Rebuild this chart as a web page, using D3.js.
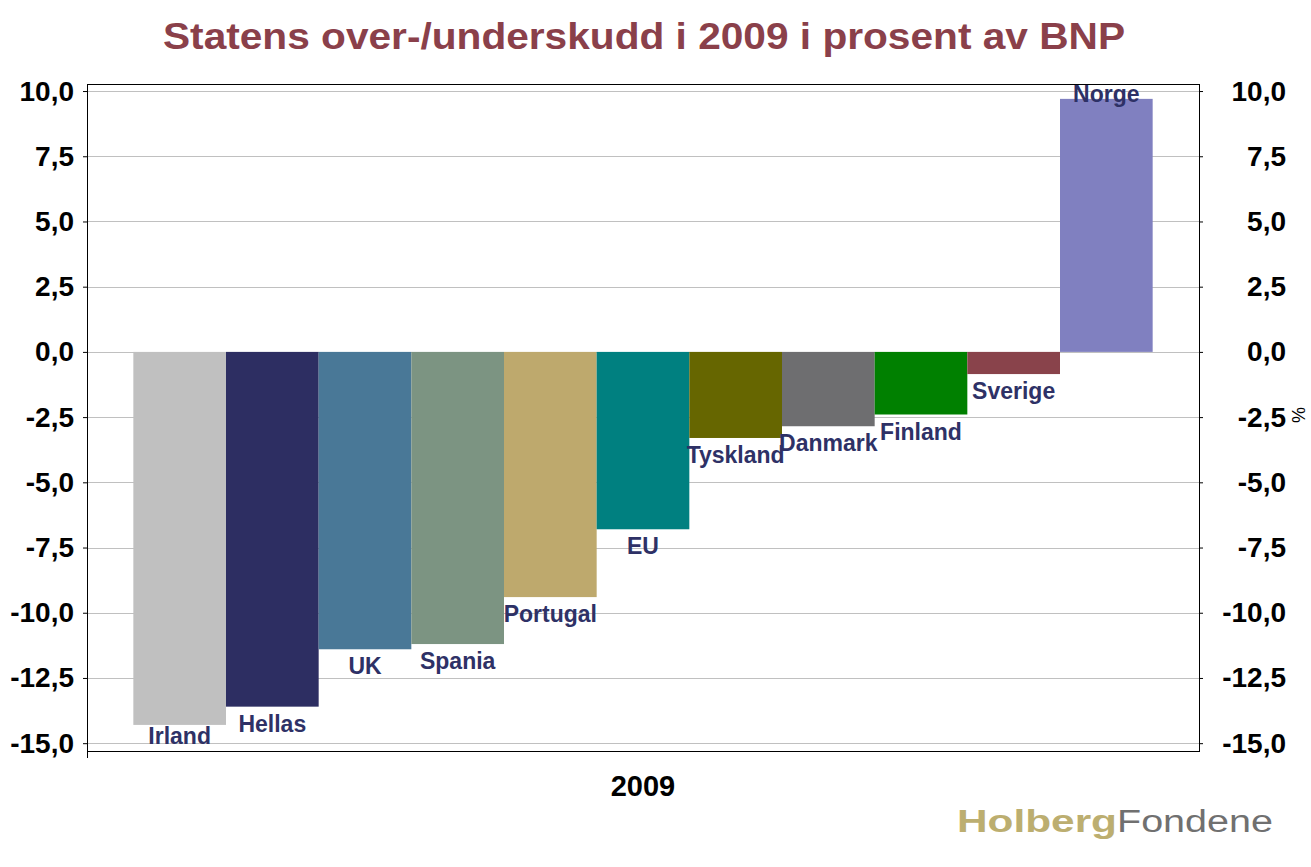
<!DOCTYPE html>
<html>
<head>
<meta charset="utf-8">
<script src="https://cdn.jsdelivr.net/npm/d3@7"></script>
<style>
  body { margin: 0; background: #fff; }
  text { font-family: "Liberation Sans", Arial, sans-serif; }
</style>
</head>
<body>
<script>
// frame dimensions
const FRAME_WIDTH = 1311;
const FRAME_HEIGHT = 867;
const MARGINS = {left: 87, right: 112, top: 84, bottom: 116};

const VIS_WIDTH = FRAME_WIDTH - MARGINS.left - MARGINS.right;
const VIS_HEIGHT = FRAME_HEIGHT - MARGINS.top - MARGINS.bottom;

// data
const countries = ['Irland', 'Hellas', 'UK', 'Spania', 'Portugal', 'EU', 'Tyskland', 'Danmark', 'Finland', 'Sverige', 'Norge'];
const balance = [-14.3, -13.6, -11.4, -11.2, -9.4, -6.8, -3.3, -2.85, -2.4, -0.85, 9.7];
const barColors = ['#c0c0c0', '#2d2e62', '#497897', '#7c9482', '#bea96d', '#008080', '#666600', '#6e6e70', '#008000', '#89434b', '#8080c0'];
const yTicks = [10, 7.5, 5, 2.5, 0, -2.5, -5, -7.5, -10, -12.5, -15];

const title = 'Statens over-/underskudd i 2009 i prosent av BNP';
const xTitle = '2009';

const data = countries.map((c, i) => ({name: c, value: balance[i], color: barColors[i]}));

const svg = d3.select('body')
  .append('svg')
    .attr('width', FRAME_WIDTH)
    .attr('height', FRAME_HEIGHT);

// scales
const xscale = d3.scaleBand()
  .domain(countries)
  .range([0, VIS_WIDTH])
  .paddingInner(0)
  .paddingOuter(0.5);

const yscale = d3.scaleLinear()
  .domain([-15.3, 10.27])
  .range([VIS_HEIGHT, 0]);

const fmt = (d) => d3.format('.1f')(d).replace('.', ',').replace('−', '-');

const FRAME = svg.append('g')
  .attr('transform', 'translate(' + MARGINS.left + ',' + MARGINS.top + ')');

// gridlines
FRAME.append('g')
  .selectAll('line')
  .data(yTicks)
  .enter().append('line')
    .attr('x1', 0)
    .attr('x2', VIS_WIDTH)
    .attr('y1', (d) => Math.round(yscale(d)) + 0.5)
    .attr('y2', (d) => Math.round(yscale(d)) + 0.5)
    .attr('stroke', '#c0c0c0')
    .attr('stroke-width', 1);

// bars
FRAME.selectAll('.bar')
  .data(data)
  .enter().append('rect')
    .attr('class', 'bar')
    .attr('x', (d) => xscale(d.name))
    .attr('y', (d) => yscale(Math.max(0, d.value)))
    .attr('width', xscale.bandwidth())
    .attr('height', (d) => Math.abs(yscale(d.value) - yscale(0)))
    .attr('fill', (d) => d.color);

// frame lines
FRAME.append('rect')
  .attr('x', 0.5)
  .attr('y', 0.5)
  .attr('width', VIS_WIDTH)
  .attr('height', VIS_HEIGHT)
  .attr('fill', 'none')
  .attr('stroke', '#000')
  .attr('stroke-width', 1);

// left axis
const leftAxis = FRAME.append('g')
  .call(d3.axisLeft(yscale).tickValues(yTicks).tickSize(4).tickFormat(fmt));
leftAxis.select('.domain').remove();
leftAxis.selectAll('text')
  .attr('x', -13)
  .attr('font-size', '28px')
  .attr('font-weight', 'bold')
  .attr('fill', '#000')
  .attr('font-family', '"Liberation Sans", Arial, sans-serif');

// right axis (labels right aligned like the original)
const rightAxis = FRAME.append('g')
  .attr('transform', 'translate(' + VIS_WIDTH + ',0)')
  .call(d3.axisRight(yscale).tickValues(yTicks).tickSize(4).tickFormat(fmt));
rightAxis.select('.domain').remove();
rightAxis.selectAll('text')
  .attr('x', 87)
  .attr('text-anchor', 'end')
  .attr('font-size', '28px')
  .attr('font-weight', 'bold')
  .attr('fill', '#000')
  .attr('font-family', '"Liberation Sans", Arial, sans-serif');

// small tick below the frame at the left edge
FRAME.append('line')
  .attr('x1', 0.5).attr('x2', 0.5)
  .attr('y1', VIS_HEIGHT).attr('y2', VIS_HEIGHT + 7)
  .attr('stroke', '#000');

// bar labels
FRAME.selectAll('.lbl')
  .data(data)
  .enter().append('text')
    .attr('class', 'lbl')
    .attr('x', (d) => xscale(d.name) + xscale.bandwidth() / 2)
    .attr('y', (d) => d.value < 0
      ? Math.min(yscale(d.value) + 25, VIS_HEIGHT - 7)
      : Math.max(yscale(d.value) - 8, 18))
    .attr('text-anchor', 'middle')
    .attr('font-size', '23px')
    .attr('font-weight', 'bold')
    .attr('fill', '#2e3166')
    .text((d) => d.name);

// title
svg.append('text')
  .attr('x', 163)
  .attr('y', 49)
  .attr('font-size', '37px')
  .attr('font-weight', 'bold')
  .attr('fill', '#8a404a')
  .attr('textLength', 962)
  .attr('lengthAdjust', 'spacingAndGlyphs')
  .text(title);

// x axis title
svg.append('text')
  .attr('x', MARGINS.left + VIS_WIDTH / 2)
  .attr('y', 796)
  .attr('text-anchor', 'middle')
  .attr('font-size', '29px')
  .attr('font-weight', 'bold')
  .attr('fill', '#000')
  .text(xTitle);

// right axis unit
svg.append('text')
  .attr('transform', 'translate(1292,415) rotate(90)')
  .attr('text-anchor', 'middle')
  .attr('font-size', '18px')
  .attr('fill', '#000')
  .text('%');

// logo
const logo = svg.append('text')
  .attr('x', 957)
  .attr('y', 832);
logo.append('tspan')
  .attr('font-size', '31px')
  .attr('font-weight', 'bold')
  .attr('fill', '#bcae70')
  .attr('textLength', 160)
  .attr('lengthAdjust', 'spacingAndGlyphs')
  .text('Holberg');
logo.append('tspan')
  .attr('font-size', '31px')
  .attr('fill', '#707070')
  .attr('textLength', 156)
  .attr('lengthAdjust', 'spacingAndGlyphs')
  .text('Fondene');
</script>
</body>
</html>
